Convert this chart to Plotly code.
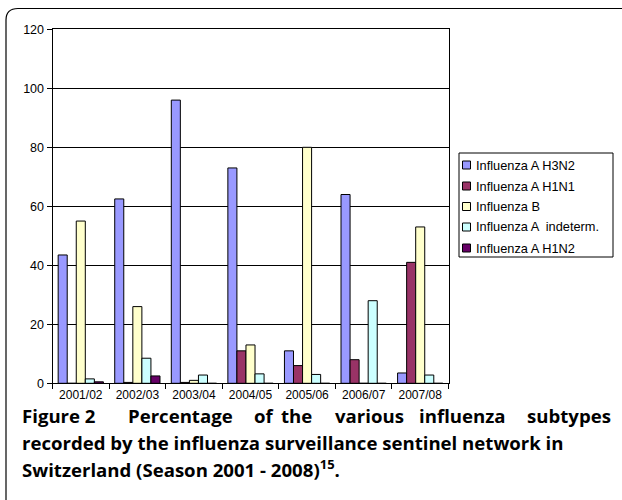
import plotly.graph_objects as go

seasons = ["2001/02", "2002/03", "2003/04", "2004/05", "2005/06", "2006/07", "2007/08"]
h3n2 = [43.5, 62.5, 96, 73, 11, 64, 3.5]
h1n1 = [0, 0.3, 0.3, 11, 6, 8, 41]
flu_b = [55, 26, 1, 13, 80, 0, 53]
indeterm = [1.5, 8.5, 2.8, 3.2, 3, 28, 2.8]
h1n2 = [0.5, 2.5, 0, 0, 0, 0, 0]

series_names = ["Influenza A H3N2", "Influenza A H1N1", "Influenza B",
                "Influenza A  indeterm.", "Influenza A H1N2"]
series_values = [h3n2, h1n1, flu_b, indeterm, h1n2]
series_colors = ["#9999FF", "#993366", "#FFFFCC", "#CCFFFF", "#660066"]

W, H = 622, 500


def px(x):
    return x / W


def py(y):
    return 1 - y / H


fig = go.Figure()
for name, vals, col in zip(series_names, series_values, series_colors):
    fig.add_trace(go.Bar(x=seasons, y=vals, name=name, showlegend=False,
                         marker=dict(color=col, line=dict(color="black", width=1))))

fig.update_layout(
    width=W, height=H,
    margin=dict(l=0, r=0, t=0, b=0, autoexpand=False),
    paper_bgcolor="white", plot_bgcolor="white",
    barmode="group", bargap=0.2, bargroupgap=0,
    font=dict(family="Liberation Sans, Arial", size=12, color="black"),
    showlegend=False,
    xaxis=dict(domain=[px(52.5), px(448.5)], type="category", automargin=False,
               showline=True, linecolor="black", linewidth=1, mirror=True,
               ticks="outside", tickson="boundaries", ticklen=5, tickcolor="black",
               showgrid=False, tickfont=dict(size=12)),
    yaxis=dict(domain=[py(383.3), py(29.3)], range=[0, 120], dtick=20, automargin=False,
               showline=True, linecolor="black", linewidth=1, mirror=True,
               ticks="outside", ticklen=5, tickcolor="black",
               showgrid=True, gridcolor="black", gridwidth=1,
               zeroline=False, tickfont=dict(size=12.5)),
)

# legend box (drawn manually to match compact Excel style)
fig.add_shape(type="rect", xref="paper", yref="paper",
              x0=px(459), x1=px(613), y0=py(257), y1=py(153),
              line=dict(color="black", width=1), fillcolor="white")
row_y = [165, 186, 206.5, 227, 248]
for name, col, ry in zip(series_names, series_colors, row_y):
    fig.add_shape(type="rect", xref="paper", yref="paper",
                  x0=px(462.5), x1=px(470.5), y0=py(ry + 4), y1=py(ry - 4),
                  line=dict(color="black", width=1), fillcolor=col)
    fig.add_annotation(xref="paper", yref="paper", x=px(475), y=py(ry),
                       xanchor="left", yanchor="middle", text=name, showarrow=False,
                       borderpad=0, font=dict(family="Liberation Sans, Arial", size=12.8))

# card frame with rounded top-left corner
fig.add_shape(type="line", xref="paper", yref="paper",
              x0=px(6), x1=px(6), y0=py(500), y1=py(20),
              line=dict(color="black", width=1.2))
fig.add_shape(type="line", xref="paper", yref="paper",
              x0=px(18), x1=px(622), y0=py(8.5), y1=py(8.5),
              line=dict(color="black", width=1.2))
fig.add_shape(type="path", xref="paper", yref="paper",
              path=f"M {px(6)},{py(20)} Q {px(6)},{py(8.5)} {px(18)},{py(8.5)}",
              line=dict(color="black", width=1.2))

cap_font = dict(family="Open Sans, Noto Sans, DejaVu Sans", size=18.6, color="black")
line1_words = ["Figure 2", "Percentage", "of", "the", "various", "influenza", "subtypes"]
line1_x = [21, 127, 253, 280, 405, 418, 612]
line1_anchor = ["left", "left", "left", "left", "right", "left", "right"]
for w, x, a in zip(line1_words, line1_x, line1_anchor):
    fig.add_annotation(xref="paper", yref="paper", x=px(x), y=py(415.5),
                       xanchor=a, yanchor="middle", text=f"<b>{w}</b>", showarrow=False,
                       borderpad=0, font=cap_font)
fig.add_annotation(xref="paper", yref="paper", x=px(21), y=py(442),
                   xanchor="left", yanchor="middle", borderpad=0,
                   text="<b>recorded by the influenza surveillance sentinel network in</b>",
                   showarrow=False, font=cap_font)
fig.add_annotation(xref="paper", yref="paper", x=px(21), y=py(468.5),
                   xanchor="left", yanchor="middle", borderpad=0,
                   text="<b>Switzerland (Season 2001 - 2008)<sup>15</sup>.</b>",
                   showarrow=False, font=cap_font)

fig.write_html("out.html", config={"displayModeBar": False},
               post_script="document.body.style.margin='0px';document.body.style.padding='0px';")
